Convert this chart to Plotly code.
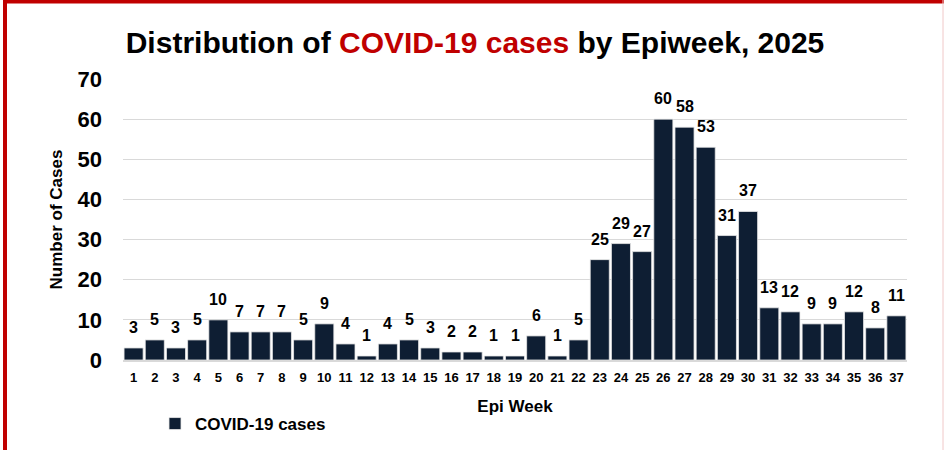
import plotly.graph_objects as go

weeks = [1, 2, 3, 4, 5, 6, 7, 8, 9, 10, 11, 12, 13, 14, 15, 16, 17, 18, 19,
         20, 21, 22, 23, 24, 25, 26, 27, 28, 29, 30, 31, 32, 33, 34, 35, 36, 37]
cases = [3, 5, 3, 5, 10, 7, 7, 7, 5, 9, 4, 1, 4, 5, 3, 2, 2, 1, 1, 6, 1, 5,
         25, 29, 27, 60, 58, 53, 31, 37, 13, 12, 9, 9, 12, 8, 11]
y_ticks = [0, 10, 20, 30, 40, 50, 60, 70]
series_name = "COVID-19 cases"

FONT = "Liberation Sans, Arial, sans-serif"
W, H = 944, 450
L, R, T, B = 123, 37, 79, 90
pw, ph = W - L - R, H - T - B


def px_x(p):
    return (p - L) / pw


def px_y(p):
    return (H - B - p) / ph


fig = go.Figure()
fig.add_trace(go.Bar(
    x=weeks, y=cases, name=series_name,
    marker=dict(color="#0E1E33", line=dict(color="#E8E8E8", width=0.8)),
))

# data labels placed through the axes from the same arrays
for wk, v in zip(weeks, cases):
    fig.add_annotation(
        x=wk, y=v, xref="x", yref="y", text=str(v), showarrow=False,
        yanchor="bottom", yshift=10,
        font=dict(family=FONT, size=16, color="#000000", weight="bold"),
    )

fig.update_layout(
    width=W, height=H,
    margin=dict(l=L, r=R, t=T, b=B, autoexpand=False),
    paper_bgcolor="white", plot_bgcolor="white",
    bargap=0.1,
    font=dict(family=FONT, color="#000000"),
    title=dict(
        text="Distribution of <span style='color:#C00000'>COVID-19 cases</span> by Epiweek, 2025",
        font=dict(family=FONT, size=30, color="#000000", weight="bold"),
        xref="container", x=475 / W, xanchor="center",
        yref="container", y=1 - 42 / H, yanchor="middle",
    ),
    xaxis=dict(
        type="linear", range=[weeks[0] - 0.5, weeks[-1] + 0.5],
        tickmode="array", tickvals=weeks, ticktext=[str(w) for w in weeks],
        showgrid=False, showline=True, linecolor="#D9D9D9", linewidth=1.5,
        zeroline=False,
        ticks="", tickfont=dict(family=FONT, size=13, weight="bold"),
        ticklabelstandoff=5,
        title=dict(text="Epi Week", font=dict(family=FONT, size=17, weight="bold"), standoff=16),
    ),
    yaxis=dict(
        range=[0, 70], tickvals=y_ticks, showgrid=True, gridcolor="#D9D9D9", gridwidth=1,
        zeroline=False, showline=False, ticks="",
        tickfont=dict(family=FONT, size=22, weight="bold"),
        ticklabelstandoff=20,
        title=dict(text="Number of Cases", font=dict(family=FONT, size=17, weight="bold"), standoff=10),
    ),
    showlegend=True,
    legend=dict(
        x=px_x(155), y=px_y(424), xanchor="left", yanchor="middle",
        orientation="h",
        font=dict(family=FONT, size=17, weight="bold"),
        itemwidth=30,
    ),
    shapes=[
        dict(type="line", xref="paper", yref="paper",
             x0=px_x(5), x1=px_x(5), y0=px_y(0), y1=px_y(H + 5),
             line=dict(color="#C00000", width=4)),
        dict(type="line", xref="paper", yref="paper",
             x0=px_x(3), x1=px_x(W + 5), y0=px_y(1.5), y1=px_y(1.5),
             line=dict(color="#C00000", width=4)),
        dict(type="line", xref="paper", yref="paper",
             x0=px_x(943), x1=px_x(943), y0=px_y(0), y1=px_y(H + 5),
             line=dict(color="#F0C8C8", width=1)),
    ],
)

fig.write_html(
    "out.html",
    config={"displayModeBar": False},
    post_script="document.body.style.margin='0';document.body.style.overflow='hidden';",
)
